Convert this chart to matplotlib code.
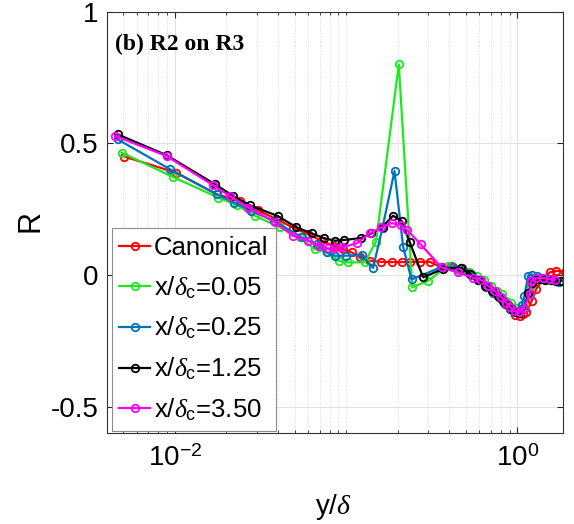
import matplotlib
matplotlib.use('Agg')
import matplotlib.pyplot as plt
from matplotlib.ticker import FixedLocator, NullFormatter

plt.rcParams['font.family'] = ['Liberation Sans', 'DejaVu Sans']
plt.rcParams['mathtext.fontset'] = 'custom'
plt.rcParams['mathtext.rm'] = 'Liberation Sans'
plt.rcParams['mathtext.it'] = 'Liberation Serif:italic'
plt.rcParams['mathtext.bf'] = 'Liberation Sans:bold'
plt.rcParams['axes.unicode_minus'] = False

# canonical profile
can_x = [0.00506, 0.0101, 0.0175, 0.0240, 0.0306, 0.0398, 0.049, 0.060, 0.0718, 0.085,
         0.096, 0.1075, 0.12, 0.1375, 0.1609, 0.1841, 0.2106, 0.2355, 0.2692, 0.3081,
         0.361, 0.412, 0.472, 0.53, 0.60, 0.66, 0.72, 0.79, 0.85, 0.90,
         0.966, 1.03, 1.08, 1.13, 1.21, 1.29, 1.41, 1.55, 1.69, 1.89]
can_r = [0.45, 0.389, 0.307, 0.281, 0.245, 0.21, 0.18, 0.155, 0.13, 0.11,
         0.098, 0.086, 0.07, 0.054, 0.050, 0.049, 0.049, 0.049, 0.050, 0.050,
         0.029, 0.035, 0.025, 0.008, -0.018, -0.04, -0.065, -0.088, -0.11, -0.128,
         -0.152, -0.157, -0.148, -0.141, -0.10, -0.053, -0.015, 0.01, 0.016, 0.013]

# x/delta_c = 0.05
g_x = [0.00488, 0.00977, 0.0179, 0.0231, 0.0293, 0.041, 0.0537, 0.0657, 0.0769, 0.0906,
       0.1027, 0.1286, 0.1496, 0.2031, 0.2435, 0.3011, 0.394, 0.45, 0.52, 0.58,
       0.64, 0.70, 0.76, 0.81, 0.86, 0.92, 0.98, 1.04, 1.10, 1.15,
       1.20, 1.26, 1.35, 1.45, 1.56, 1.68, 1.78]
g_r = [0.465, 0.372, 0.294, 0.265, 0.225, 0.181, 0.143, 0.098, 0.086, 0.054,
       0.048, 0.048, 0.127, 0.80, -0.047, -0.022, 0.035, 0.02, 0.01, -0.005,
       -0.02, -0.04, -0.06, -0.072, -0.097, -0.105, -0.125, -0.135, -0.12, -0.075,
       -0.04, -0.02, -0.012, -0.015, -0.02, -0.022, -0.022]

# x/delta_c = 0.25
b_x = [0.00463, 0.00935, 0.0175, 0.0221, 0.028, 0.038, 0.0549, 0.0672, 0.0769, 0.0859,
       0.0992, 0.123, 0.1438, 0.1631, 0.1917, 0.2152, 0.2409, 0.36, 0.42, 0.48,
       0.54, 0.60, 0.66, 0.72, 0.78, 0.84, 0.90, 0.95, 1.0, 1.06,
       1.10, 1.155, 1.22, 1.30, 1.40, 1.50, 1.62, 1.74]
b_r = [0.515, 0.402, 0.307, 0.275, 0.244, 0.205, 0.143, 0.117, 0.086, 0.073,
       0.073, 0.076, 0.027, 0.18, 0.395, 0.107, -0.017, 0.03, 0.03, 0.02,
       0.0, -0.02, -0.045, -0.07, -0.085, -0.105, -0.128, -0.14, -0.135, -0.115,
       -0.08, -0.003, 0.0, -0.005, -0.01, -0.015, -0.02, -0.025]

# x/delta_c = 1.25
k_x = [0.00463, 0.00894, 0.0171, 0.0219, 0.0274, 0.0398, 0.0513, 0.0628, 0.0744, 0.0859,
       0.0973, 0.1218, 0.1406, 0.1631, 0.1881, 0.2106, 0.2355, 0.2815, 0.3684, 0.4717,
       0.53, 0.59, 0.65, 0.71, 0.77, 0.83, 0.88, 0.93, 0.98, 1.04,
       1.10, 1.16, 1.21, 1.27, 1.36, 1.46, 1.57, 1.68, 1.80]
k_r = [0.534, 0.455, 0.345, 0.30, 0.265, 0.224, 0.181, 0.158, 0.140, 0.130,
       0.133, 0.140, 0.158, 0.183, 0.225, 0.206, 0.124, -0.009, 0.023, 0.027,
       0.005, -0.02, -0.04, -0.06, -0.08, -0.10, -0.115, -0.13, -0.14, -0.145,
       -0.13, -0.07, -0.03, -0.015, -0.015, -0.018, -0.02, -0.022, -0.022]

# x/delta_c = 3.50
m_x = [0.00447, 0.00894, 0.0167, 0.0209, 0.0268, 0.0384, 0.049, 0.060, 0.0693, 0.0779,
       0.0859, 0.094, 0.115, 0.1375, 0.1609, 0.1841, 0.2078, 0.2282, 0.2729, 0.3606,
       0.4506, 0.551, 0.617, 0.675, 0.738, 0.808, 0.864, 0.903, 0.966, 1.033,
       1.09, 1.18, 1.209, 1.293, 1.41, 1.546, 1.653]
m_r = [0.528, 0.452, 0.341, 0.300, 0.256, 0.200, 0.149, 0.130, 0.111, 0.101,
       0.102, 0.105, 0.120, 0.158, 0.181, 0.197, 0.191, 0.170, 0.116, 0.029,
       0.010, -0.011, -0.019, -0.041, -0.059, -0.084, -0.107, -0.122, -0.138, -0.141,
       -0.129, -0.072, -0.022, -0.0125, -0.011, -0.015, -0.019]

labels = ['Canonical', r'x/$\delta_{\mathrm{c}}$=0.05', r'x/$\delta_{\mathrm{c}}$=0.25',
          r'x/$\delta_{\mathrm{c}}$=1.25', r'x/$\delta_{\mathrm{c}}$=3.50']
colors = ['#ff0000', '#1fe81f', '#0072bd', '#000000', '#ff00ff']
series = [(can_x, can_r), (g_x, g_r), (b_x, b_r), (k_x, k_r), (m_x, m_r)]

fig = plt.figure(figsize=(5.74, 5.24), dpi=100)
ax = fig.add_axes([0.186, 0.1737, 0.795, 0.804])

for (xs, rs), c, lab in zip(series, colors, labels):
    ax.plot(xs, rs, '-o', color=c, lw=1.6, ms=5.4, mfc='none', mew=1.3, label=lab)

ax.set_xscale('log')
ax.set_xlim(0.004, 1.85)
ax.set_ylim(-0.6, 1)

ax.xaxis.set_major_locator(FixedLocator([1e-2, 1e0]))
ax.set_xticklabels([r'$10^{-2}$', r'$10^{0}$'])
minors = [k * 10.0**e for e in (-3, -2, -1, 0) for k in range(1, 10)]
minors = [v for v in minors if v not in (1e-2, 1.0)]
ax.xaxis.set_minor_locator(FixedLocator(minors))
ax.xaxis.set_minor_formatter(NullFormatter())
ax.set_yticks([-0.5, 0, 0.5, 1])
ax.set_yticklabels(['-0.5', '0', '0.5', '1'])

ax.tick_params(which='both', direction='in', top=True, right=True, labelsize=20, color='0.15')
ax.tick_params(which='major', length=4, width=0.8)
ax.tick_params(which='minor', length=2.5, width=0.6)
ax.tick_params(axis='x', pad=9)
ax.tick_params(axis='y', pad=6)

ax.set_axisbelow(True)
ax.grid(True, which='major', color='0.88', lw=0.7)
ax.grid(True, which='minor', axis='x', color='0.85', ls=':', lw=0.7)
for s in ax.spines.values():
    s.set_color('0.2')
    s.set_linewidth(0.8)

ax.set_xlabel(r'y/$\delta$', fontsize=20)
ax.xaxis.set_label_coords(0.496, -0.14)
ax.set_ylabel('R', fontsize=22)
ax.yaxis.set_label_coords(-0.135, 0.504)

ax.text(0.018, 0.948, '(b) R2 on R3', transform=ax.transAxes, family='Liberation Serif',
        weight='bold', fontsize=17, va='top')

leg = ax.legend(loc='lower left', bbox_to_anchor=(0.011, 0.0055), fontsize=18.5,
                fancybox=False, edgecolor='0.55', framealpha=1, handlelength=1.2,
                handletextpad=0.15, borderpad=0.3, labelspacing=0.55, borderaxespad=0)
leg.get_frame().set_linewidth(0.8)

fig.savefig('out.png', dpi=100)
